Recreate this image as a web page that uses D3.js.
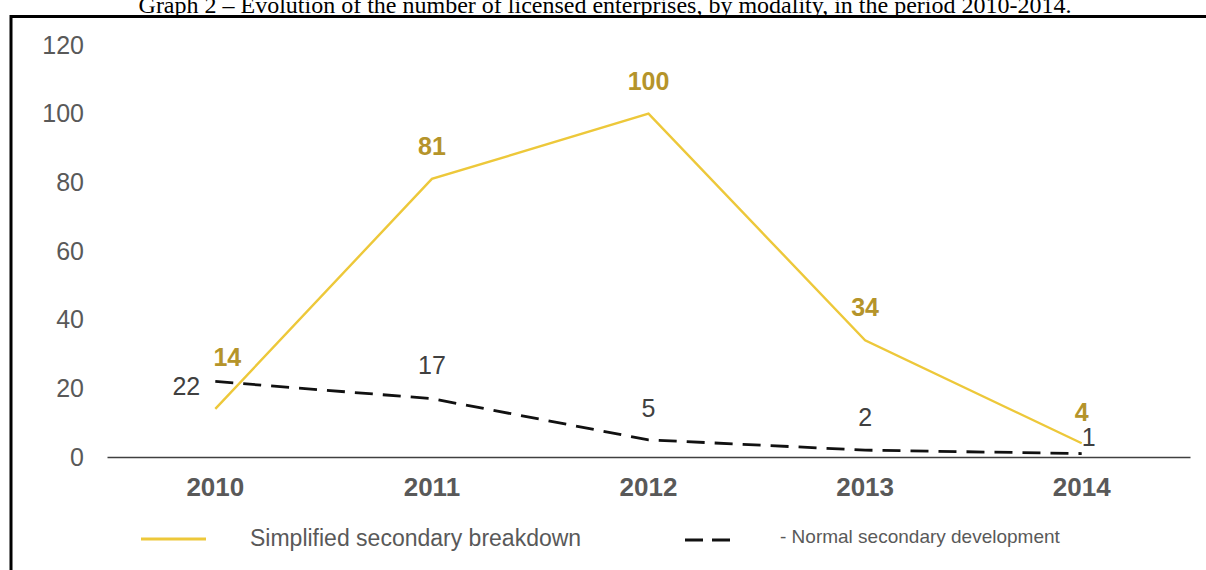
<!DOCTYPE html>
<html>
<head>
<meta charset="utf-8">
<script src="https://cdn.jsdelivr.net/npm/d3@7"></script>
<style>
  html, body { margin: 0; padding: 0; background: #fff; }
  svg { display: block; }
</style>
</head>
<body>
<svg id="chart" width="1206" height="570"></svg>
<script>
// Licensed enterprises per year, by modality
const years = ["2010", "2011", "2012", "2013", "2014"];
const simplified = [14, 81, 100, 34, 4];
const normal = [22, 17, 5, 2, 1];
const yTicks = [0, 20, 40, 60, 80, 100, 120];
const seriesNames = ["Simplified secondary breakdown", "- Normal secondary development"];
const title = "Graph 2 \u2013 Evolution of the number of licensed enterprises, by modality, in the period 2010-2014.";

const svg = d3.select("#chart");
const gold = "#EDC83A";
const goldText = "#B5942A";
const grey = "#595959";
const sans = "Liberation Sans, Arial, sans-serif";

// Title and frame
svg.append("text")
  .attr("x", 605).attr("y", 13)
  .attr("text-anchor", "middle")
  .attr("font-family", "Liberation Serif, Times New Roman, serif")
  .attr("font-size", 24)
  .attr("fill", "#000")
  .text(title);

svg.append("line").attr("x1", 10).attr("x2", 1206).attr("y1", 16.5).attr("y2", 16.5)
  .attr("stroke", "#000").attr("stroke-width", 3);
svg.append("line").attr("x1", 11).attr("x2", 11).attr("y1", 15).attr("y2", 570)
  .attr("stroke", "#000").attr("stroke-width", 3);

// Scales
const x = d3.scaleBand().domain(years).range([107, 1190]);
const cx = d => x(d) + x.bandwidth() / 2;
const y = d3.scaleLinear().domain([0, 120]).range([457, 45]);

// Y tick labels (no axis line)
svg.append("g").selectAll("text").data(yTicks).join("text")
  .attr("x", 84).attr("y", d => y(d))
  .attr("dy", "0.35em")
  .attr("text-anchor", "end")
  .attr("font-family", sans)
  .attr("font-size", 25)
  .attr("fill", grey)
  .text(d => d);

// X axis baseline and year labels
const xAxis = d3.axisBottom(x).tickSize(0).tickPadding(21);
const gx = svg.append("g").attr("transform", `translate(0,${y(0)})`).call(xAxis);
gx.select(".domain").attr("stroke", "#404040").attr("stroke-width", 1.4);
gx.selectAll("text")
  .attr("font-family", sans)
  .attr("font-size", 26)
  .attr("font-weight", "bold")
  .attr("fill", grey);

// Lines
const line = d3.line().x((d, i) => cx(years[i])).y(d => y(d));

svg.append("path").datum(normal)
  .attr("d", line)
  .attr("fill", "none")
  .attr("stroke", "#111")
  .attr("stroke-width", 2.8)
  .attr("stroke-dasharray", "18,10");

svg.append("path").datum(simplified)
  .attr("d", line)
  .attr("fill", "none")
  .attr("stroke", gold)
  .attr("stroke-width", 2.4);

// Value labels
const simpOffsets = [[12, -52], [0, -33], [0, -32], [0, -33], [0, -31]];
svg.append("g").selectAll("text").data(simplified).join("text")
  .attr("x", (d, i) => cx(years[i]) + simpOffsets[i][0])
  .attr("y", (d, i) => y(d) + simpOffsets[i][1])
  .attr("dy", "0.35em")
  .attr("text-anchor", "middle")
  .attr("font-family", sans)
  .attr("font-size", 25)
  .attr("font-weight", "bold")
  .attr("fill", goldText)
  .text(d => d);

const normOffsets = [[-29, 5], [0, -33], [0, -32], [0, -33], [7, -16]];
svg.append("g").selectAll("text").data(normal).join("text")
  .attr("x", (d, i) => cx(years[i]) + normOffsets[i][0])
  .attr("y", (d, i) => y(d) + normOffsets[i][1])
  .attr("dy", "0.35em")
  .attr("text-anchor", "middle")
  .attr("font-family", sans)
  .attr("font-size", 25)
  .attr("fill", "#404040")
  .text(d => d);

// Legend
const legend = svg.append("g").attr("font-family", sans).attr("fill", grey);
legend.append("line").attr("x1", 141).attr("x2", 206).attr("y1", 539).attr("y2", 539)
  .attr("stroke", gold).attr("stroke-width", 2.8);
legend.append("text").attr("x", 250).attr("y", 538).attr("dy", "0.35em")
  .attr("font-size", 23).text(seriesNames[0]);
legend.append("line").attr("x1", 685).attr("x2", 730).attr("y1", 540).attr("y2", 540)
  .attr("stroke", "#111").attr("stroke-width", 2.8).attr("stroke-dasharray", "18,9");
legend.append("text").attr("x", 780).attr("y", 536).attr("dy", "0.35em")
  .attr("font-size", 19).text(seriesNames[1]);
</script>
</body>
</html>
